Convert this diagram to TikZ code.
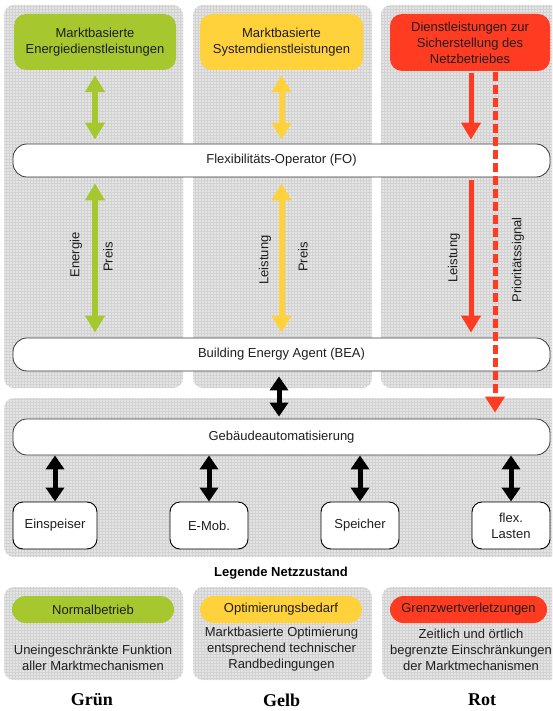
\documentclass[tikz,border=0pt]{standalone}
\usepackage{fontspec}
\setmainfont{Liberation Sans}
\newfontfamily\serifbold{Liberation Serif}
\usetikzlibrary{arrows.meta,calc}
\definecolor{cgreen}{HTML}{A6C72D}
\definecolor{cyellow}{HTML}{FFD23C}
\definecolor{cred}{HTML}{FF3B22}
\definecolor{panelgray}{HTML}{E4E4E4}
\definecolor{gridc}{HTML}{D2D2D2}
\definecolor{txt}{HTML}{1E1E1E}
\definecolor{bordc}{HTML}{3A3A3A}
\begin{document}
\begin{tikzpicture}[x=1pt,y=-1pt,
  font=\fontsize{13}{16}\selectfont, text=txt,
  panel/.style={fill=panelgray, rounded corners=10pt,
    path picture={\draw[gridc, line width=0.3pt, step=3pt]
      (path picture bounding box.south west) grid (path picture bounding box.north east);}},
  topbox/.style={rounded corners=12pt, inner sep=0pt, align=center, minimum height=56pt},
  bar/.style={draw=bordc, line width=0.8pt, fill=white, rounded corners=14pt, minimum width=537pt, inner sep=0pt},
  smallbox/.style={draw=black, line width=0.9pt, fill=white, rounded corners=10pt, minimum width=78pt, minimum height=47pt, inner sep=0pt, align=center},
  pill/.style={rounded corners=13.5pt, minimum height=27pt, inner sep=0pt},
  lbl/.style={rotate=90, inner sep=0pt},
  ltext/.style={align=center, inner sep=0pt},
  bigtip/.style={Triangle[width=19pt,length=17pt]},
  garrow/.style={draw=cgreen, line width=6pt, {Triangle[width=19pt,length=17pt]}-{Triangle[width=19pt,length=17pt]}},
  yarrow/.style={draw=cyellow, line width=6pt, {Triangle[width=19pt,length=17pt]}-{Triangle[width=19pt,length=17pt]}},
  rarrow/.style={draw=cred, line width=5pt, -{Triangle[width=19pt,length=17pt]}},
  rdash/.style={draw=cred, line width=5pt, dash pattern=on 9pt off 4pt, -{Triangle[width=19pt,length=16pt]}},
  karrow/.style={draw=black, line width=5pt, {Triangle[width=18pt,length=14pt]}-{Triangle[width=18pt,length=14pt]}}
]
\useasboundingbox (0,0) rectangle (552,711);
\clip (0,0) rectangle (552,711);

% background panels
\path[panel] (4,5) rectangle (183,388);
\path[panel] (193,5) rectangle (372,388);
\path[panel] (381,5) rectangle (560,388);
\path[panel] (4,398) rectangle (560,557);
\path[panel] (4,587) rectangle (183,680);
\path[panel] (193,587) rectangle (372,680);
\path[panel] (382,587) rectangle (560,680);

% top boxes
\node[topbox, fill=cgreen, minimum width=162pt] (green) at (95,42) {Marktbasierte\\Energiedienstleistungen};
\node[topbox, fill=cyellow, minimum width=163pt] (yellow) at (281.5,42) {Marktbasierte\\Systemdienstleistungen};
\node[topbox, fill=cred, minimum width=160pt, minimum height=57pt] (red) at (470,42.5) {Dienstleistungen zur\\Sicherstellung des\\Netzbetriebes};

% bars
\node[bar, minimum height=33pt] (fo) at (281.5,160.5) {Flexibilitäts-Operator (FO)};
\node[bar, minimum height=33pt] (bea) at (281.5,354.5) {Building Energy Agent (BEA)};
\node[bar, minimum height=36pt] (geb) at (281.5,437) {Gebäudeautomatisierung};

% small boxes
\node[smallbox, minimum width=84pt] (einsp) at (55,525.5) {Einspeiser};
\node[smallbox] (emob) at (209,525.5) {E-Mob.};
\node[smallbox] (speich) at (360,525.5) {Speicher};
\node[smallbox] (flex) at (511,525.5) {flex.\\Lasten};

% green arrows
\draw[garrow, shorten <=5pt, shorten >=4pt] (green.south) -- (green.south |- fo.north);
\draw[garrow, shorten <=6pt, shorten >=5pt] (green.south |- fo.south) -- (green.south |- bea.north);
% yellow arrows
\draw[yarrow, shorten <=5pt, shorten >=4pt] (yellow.south) -- (yellow.south |- fo.north);
\draw[yarrow, shorten <=6pt, shorten >=5pt] (yellow.south |- fo.south) -- (yellow.south |- bea.north);
% red arrows
\coordinate (rtop) at ($(red.south)+(1,0)$);
\draw[rarrow, shorten <=2pt, shorten >=4pt] (rtop) -- (rtop |- fo.north);
\draw[rarrow, shorten <=3pt, shorten >=5pt] (rtop |- fo.south) -- (rtop |- bea.north);
\coordinate (dtop) at ($(red.south)+(25,0)$);
\draw[rdash, shorten <=1pt, shorten >=6pt] (dtop) -- (dtop |- geb.north);

% black arrows
\coordinate (bk) at ($(bea.south)+(-2.5,0)$);
\draw[karrow, shorten <=5pt, shorten >=2pt] (bk) -- (bk |- geb.north);
\draw[karrow] (einsp.north |- geb.south) -- (einsp.north);
\draw[karrow] (emob.north |- geb.south) -- (emob.north);
\draw[karrow] (speich.north |- geb.south) -- (speich.north);
\draw[karrow] (flex.north |- geb.south) -- (flex.north);

% arrow labels
\node[lbl] (lenergie) at (76,255) {Energie};
\node[lbl] (lpreis1) at (108,257) {Preis};
\node[lbl] (lleist1) at (265,260) {Leistung};
\node[lbl] (lpreis2) at (303,257) {Preis};
\node[lbl] (lleist2) at (454,258) {Leistung};
\node[lbl] (lprio) at (518,260) {Prioritätssignal};

% legend
\node[font=\fontsize{13}{16}\selectfont\bfseries, text=black] (legtitle) at (281,573) {Legende Netzzustand};
\node[pill, fill=cgreen, minimum width=162pt] (lgreen) at (93,609.5) {Normalbetrieb};
\node[pill, fill=cyellow, minimum width=162pt] (lyellow) at (281,609.5) {Optimierungsbedarf};
\node[pill, fill=cred, minimum width=157pt] (lred) at (468.5,609.5) {Grenzwertverletzungen};

\node[ltext] (tgreen) at (93,658) {Uneingeschränkte Funktion\\aller Marktmechanismen};
\node[ltext] (tyellow) at (281.5,649) {Marktbasierte Optimierung\\entsprechend technischer\\Randbedingungen};
\node[ltext] (tred) at (471,649.5) {Zeitlich und örtlich\\begrenzte Einschränkungen\\der Marktmechanismen};

\node[font=\fontsize{18}{20}\serifbold\bfseries, text=black] (gruen) at (92,700) {Grün};
\node[font=\fontsize{18}{20}\serifbold\bfseries, text=black] (gelb) at (281.5,700) {Gelb};
\node[font=\fontsize{18}{20}\serifbold\bfseries, text=black] (rot) at (482,700) {Rot};
\end{tikzpicture}
\end{document}
